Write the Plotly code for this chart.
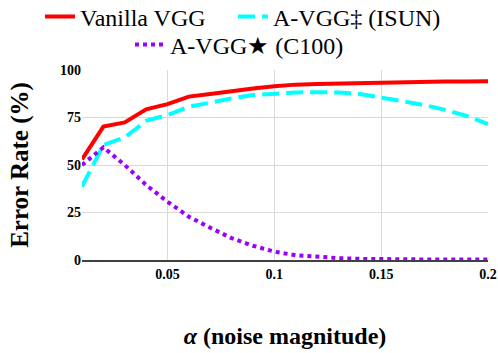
import plotly.graph_objects as go

alpha = [0.01, 0.02, 0.03, 0.04, 0.05, 0.06, 0.07, 0.08, 0.09, 0.10,
         0.11, 0.12, 0.13, 0.14, 0.15, 0.16, 0.17, 0.18, 0.19, 0.20]
vanilla = [53, 70.2, 72.4, 79.3, 82, 86, 87.4, 89.1, 90.3, 91.4,
           92.3, 92.6, 92.9, 93.1, 93.3, 93.5, 93.7, 93.9, 94.0, 94.1]
isun = [38.6, 60.5, 64.5, 73.2, 76.3, 80.7, 82.8, 85.1, 86.8, 87.7,
        88.2, 88.3, 88.2, 87.4, 85.6, 83.9, 81.6, 79, 75.8, 71.5]
c100 = [50, 59.3, 50, 39.5, 30.7, 22.8, 17, 11.5, 7.5, 4.4,
        2.5, 1.5, 1, 0.6, 0.4, 0.3, 0.3, 0.2, 0.2, 0.2]

names = ["Vanilla VGG", "A-VGG‡ (ISUN)", "A-VGG★ (C100)"]
xticks = [0.05, 0.1, 0.15, 0.2]
yticks = [0, 25, 50, 75, 100]

fig = go.Figure()
fig.add_trace(go.Scatter(x=alpha, y=vanilla, mode="lines", name=names[0], legend="legend",
                         showlegend=True, line=dict(color="#ff0000", width=4)))
fig.add_trace(go.Scatter(x=alpha, y=isun, mode="lines", name=names[1], legend="legend2",
                         showlegend=True, line=dict(color="#00ffff", width=4, dash="17px,7px")))
fig.add_trace(go.Scatter(x=alpha, y=c100, mode="lines", name=names[2], legend="legend3",
                         showlegend=True, line=dict(color="#9900ff", width=4, dash="4px,4px")))

serif = "Liberation Serif"
legfont = dict(family=serif, size=24, color="black")


def leg(xpx, ypx):
    return dict(orientation="h", x=xpx / 498, xanchor="left", xref="container",
                y=1 - ypx / 353, yanchor="middle", yref="container",
                font=legfont, bgcolor="rgba(0,0,0,0)", itemwidth=30)


fig.update_layout(
    width=498, height=353,
    showlegend=True,
    margin=dict(l=82, r=10, t=70, b=93, autoexpand=False),
    plot_bgcolor="white", paper_bgcolor="white",
    font=dict(family=serif, color="black"),
    legend=leg(40, 17),
    legend2=leg(233, 17),
    legend3=leg(130, 45),
    xaxis=dict(range=[0.01, 0.2], tickvals=xticks, ticktext=["0.05", "0.1", "0.15", "0.2"],
               showgrid=True, gridcolor="#d9d9d9", gridwidth=1,
               showline=True, linecolor="#404040", linewidth=1.5,
               zeroline=False, ticks="",
               tickfont=dict(family=serif, size=14, color="black", weight="bold"),
               title=dict(text="<b><i>α</i> (noise magnitude)</b>",
                          font=dict(family=serif, size=24, color="black"), standoff=47)),
    yaxis=dict(range=[0, 100], tickvals=yticks,
               showgrid=True, gridcolor="#d9d9d9", gridwidth=1,
               zeroline=False, showline=False, ticks="",
               tickfont=dict(family=serif, size=14, color="black", weight="bold"),
               title=dict(text="<b>Error Rate (%)</b>",
                          font=dict(family=serif, size=25, color="black"), standoff=24)),
)
fig.write_html("out.html", config={"displayModeBar": False},
               post_script="document.body.style.margin='0';document.body.style.overflow='hidden';")
